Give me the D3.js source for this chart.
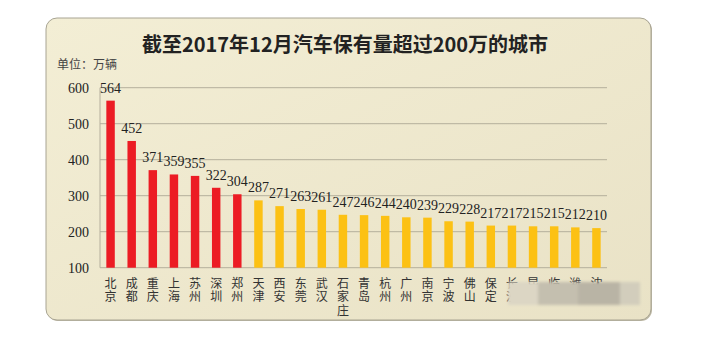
<!DOCTYPE html>
<html><head><meta charset="utf-8">
<script src="https://cdn.jsdelivr.net/npm/d3@7"></script>
<style>html,body{margin:0;padding:0;background:#fff;}svg{display:block;}</style>
</head><body>
<script>
const cities = ["北京","成都","重庆","上海","苏州","深圳","郑州","天津","西安","东莞","武汉","石家庄","青岛","杭州","广州","南京","宁波","佛山","保定","长沙","昆明","临沂","潍坊","沈阳"];
const values = [564,452,371,359,355,322,304,287,271,263,261,247,246,244,240,239,229,228,217,217,215,215,212,210];
const redCount = 7;
const yTicks = [100,200,300,400,500,600];
const title = "截至2017年12月汽车保有量超过200万的城市";
const unitLabel = "单位：万辆";

const W = 705, H = 345;
const svg = d3.select("body").append("svg").attr("width", W).attr("height", H);
const defs = svg.append("defs");
const grad = defs.append("linearGradient").attr("id","bg").attr("x1",0).attr("y1",0).attr("x2",1).attr("y2",1);
grad.append("stop").attr("offset","0%").attr("stop-color","#f3eed5");
grad.append("stop").attr("offset","100%").attr("stop-color","#e9e2c6");
const blur = defs.append("filter").attr("id","blur").attr("x","-20%").attr("y","-50%").attr("width","140%").attr("height","200%");
blur.append("feGaussianBlur").attr("stdDeviation", 1.5);

// panel
svg.append("rect").attr("x",47).attr("y",19).attr("width",605).attr("height",302)
  .attr("rx",11).attr("fill","#bdb8a4");
svg.append("rect").attr("x",46).attr("y",18).attr("width",605).attr("height",302)
  .attr("rx",11).attr("fill","url(#bg)").attr("stroke","#a8a493").attr("stroke-width",1);

const x = d3.scaleBand().domain(cities).range([100, 607]).paddingInner(0.6).paddingOuter(0.3);
const y = d3.scaleLinear().domain([100, 600]).range([267.7, 87.7]);

// gridlines
svg.append("g").selectAll("line").data(yTicks).join("line")
  .attr("x1",100).attr("x2",607).attr("y1",d=>y(d)).attr("y2",d=>y(d))
  .attr("stroke","#b4af9c").attr("stroke-width",1);
svg.append("line").attr("x1",100).attr("x2",100).attr("y1",y(600)).attr("y2",y(100))
  .attr("stroke","#b4af9c");

// y tick labels
svg.append("g").selectAll("text").data(yTicks).join("text")
  .attr("x",89).attr("y",d=>y(d)+5).attr("text-anchor","end")
  .attr("font-family","Liberation Serif, serif").attr("font-size",14).attr("fill","#222")
  .text(d=>d);

// bars
svg.append("g").selectAll("rect").data(values).join("rect")
  .attr("x",(d,i)=>x(cities[i])).attr("width",x.bandwidth())
  .attr("y",d=>y(d)).attr("height",d=>y(100)-y(d))
  .attr("fill",(d,i)=> i<redCount ? "#ec1c24" : "#fcc114");

// value labels
svg.append("g").selectAll("text").data(values).join("text")
  .attr("x",(d,i)=>x(cities[i])+x.bandwidth()/2).attr("y",d=>y(d)-8)
  .attr("text-anchor","middle")
  .attr("font-family","Liberation Serif, serif").attr("font-size",14).attr("fill","#222")
  .text(d=>d);

// x labels (vertical text)
svg.append("g").selectAll("text").data(cities).join("text")
  .attr("font-family","Noto Sans CJK SC, sans-serif").attr("font-size",12).attr("fill","#333")
  .style("writing-mode","vertical-rl").style("text-orientation","upright")
  .attr("letter-spacing",1.5)
  .attr("x",d=>x(d)+x.bandwidth()/2).attr("y",277)
  .text(d=>d);

// blurred overlay on last labels (as in reference)
const ov = svg.append("g").attr("filter","url(#blur)");
const by0 = 282, bh = 23;
[[508,30,"#dcd6c4"],[538,40,"#c4bfaf"],[578,42,"#b9b4a5"],[620,20,"#d2cdbc"]].forEach(b=>{
  ov.append("rect").attr("x",b[0]).attr("y",by0).attr("width",b[1]).attr("height",bh).attr("fill",b[2]);
});

// title
svg.append("text").attr("x",345).attr("y",52).attr("text-anchor","middle")
  .attr("font-family","Noto Sans CJK SC, serif").attr("font-weight","bold").attr("font-size",20).attr("fill","#222")
  .text(title);

svg.append("text").attr("x",57).attr("y",69)
  .attr("font-family","Noto Sans CJK SC, sans-serif").attr("font-size",12).attr("fill","#444")
  .text(unitLabel);
</script>
</body></html>
